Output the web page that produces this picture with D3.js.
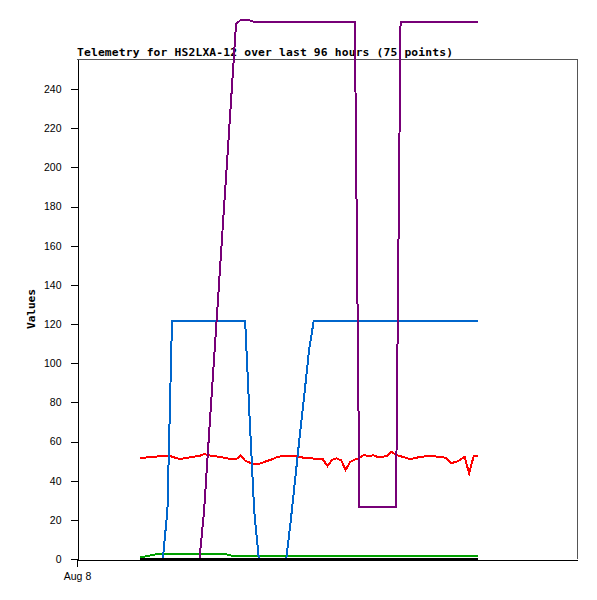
<!DOCTYPE html>
<html><head><meta charset="utf-8">
<script src="https://cdn.jsdelivr.net/npm/d3@7"></script>
<style>
body{margin:0;background:#fff;}
svg{display:block;}
</style></head>
<body>
<script>
const title = "Telemetry for HS2LXA-12 over last 96 hours (75 points)";
const yLabel = "Values";
const yTicks = [0,20,40,60,80,100,120,140,160,180,200,220,240];
const xTickLabels = ["Aug 8"];

// 75 samples (index 0..74)
const redValues = [51.7,51.7,52.1,52.2,52.4,52.6,52.6,52.3,51.4,51.1,
  51.7,51.9,52.3,52.6,53.6,53.0,52.6,52.3,51.9,51.4,
  51.0,50.8,52.9,50.2,49.2,48.4,48.5,49.4,50.2,51.0,
  52.1,52.5,52.6,52.8,52.6,52.1,51.6,51.4,51.3,50.9,
  50.9,47.5,50.6,51.4,50.4,45.5,49.6,50.8,51.6,53.2,
  52.4,53.0,52.1,52.2,52.6,54.8,53.1,52.5,51.8,51.1,
  51.4,52.0,52.3,52.8,52.7,52.2,52.0,51.6,49.1,49.4,
  50.6,52.2,43.8,52.5,52.8];
const greenValues = [0.7,1.2,1.7,2.2,2.5,2.8,2.8,2.8,2.8,2.8,
  2.8,2.8,2.8,2.8,2.8,2.8,2.3,2.3,2.3,2.3,
  1.7,1.7,1.7,1.7,1.7,1.7,1.7,1.7,1.7,1.7,
  1.7,1.7,1.7,1.7,1.7,1.7,1.7,1.7,1.7,1.7,
  1.7,1.7,1.7,1.7,1.7,1.7,1.7,1.7,1.7,1.7,
  1.7,1.7,1.7,1.7,1.7,1.7,1.7,1.7,1.7,1.7,
  1.7,1.7,1.7,1.7,1.7,1.7,1.7,1.7,1.7,1.7,
  1.7,1.7,1.7,1.7,1.7];
const blueValues = [0,0,0,0,0,0,25,121.5,121.5,121.5,
  121.5,121.5,121.5,121.5,121.5,121.5,121.5,121.5,121.5,121.5,
  121.5,121.5,121.5,121.5,71,24,0,0,0,0,
  0,0,0,20,42,64,85,107,121.5,121.5,
  121.5,121.5,121.5,121.5,121.5,121.5,121.5,121.5,121.5,121.5,
  121.5,121.5,121.5,121.5,121.5,121.5,121.5,121.5,121.5,121.5,
  121.5,121.5,121.5,121.5,121.5,121.5,121.5,121.5,121.5,121.5,
  121.5,121.5,121.5,121.5,121.5];
const purpleValues = [0,0,0,0,0,0,0,0,0,0,
  0,0,0,0,24,60,95,130,166,201,
  237,273,275.3,275.3,275,274.3,274.3,274.3,274.3,274.3,
  274.3,274.3,274.3,274.3,274.3,274.3,274.3,274.3,274.3,274.3,
  274.3,274.3,274.3,274.3,274.3,274.3,274.3,274.3,26.7,26.7,
  26.7,26.7,26.7,26.7,26.7,26.7,26.7,274.3,274.3,274.3,
  274.3,274.3,274.3,274.3,274.3,274.3,274.3,274.3,274.3,274.3,
  274.3,274.3,274.3,274.3,274.3];
const blackValues = [0,0,0,0,0,0,0,0,0,0,0,0,0,0,0,0,0,0,0,0,0,0,0,0,0,
  0,0,0,0,0,0,0,0,0,0,0,0,0,0,0,0,0,0,0,0,0,0,0,0,0,
  0,0,0,0,0,0,0,0,0,0,0,0,0,0,0,0,0,0,0,0,0,0,0,0,0];

const series = [
  {name:"red", values:redValues, color:"#ff0000"},
  {name:"green", values:greenValues, color:"#00a000"},
  {name:"blue", values:blueValues, color:"#0066cc"},
  {name:"purple", values:purpleValues, color:"#770077"},
  {name:"black", values:blackValues, color:"#000000"}
];

const W = 597, H = 600;
const mLeft = 77, mRight = 577, mTop = 59, mBottom = 559;

const svg = d3.select("body").append("svg").attr("width", W).attr("height", H);

// time axis: start of Aug 8 at left edge
const t0 = new Date(2023, 7, 8, 0, 0, 0);
const hourMs = 3600e3;
const stepH = 96 / 74;            // hours between samples
const startH = 17.88;             // first sample offset (hours)
const times = d3.range(75).map(i => new Date(+t0 + (startH + i * stepH) * hourMs));
const x = d3.scaleTime().domain([t0, new Date(+t0 + 141.9 * hourMs)]).range([mLeft, mRight]);
const y = d3.scaleLinear().domain([0, 500/1.9583]).range([mBottom, mTop]);

// frame
svg.append("line").attr("x1", mLeft).attr("x2", mRight).attr("y1", mTop + 0.5).attr("y2", mTop + 0.5)
  .attr("stroke", "#555").attr("shape-rendering", "crispEdges");
svg.append("line").attr("x1", mRight + 0.5).attr("x2", mRight + 0.5).attr("y1", mTop).attr("y2", mBottom)
  .attr("stroke", "#555").attr("shape-rendering", "crispEdges");

// title
svg.append("text").attr("x", mLeft).attr("y", 56)
  .attr("font-family", "'DejaVu Sans Mono', monospace").attr("font-weight", "bold")
  .attr("font-size", "11.3px").attr("fill", "#000")
  .attr("textLength", 376).attr("lengthAdjust", "spacing").text(title);

// y axis
const yAxis = d3.axisLeft(y).tickValues(yTicks).tickSize(7).tickPadding(9).tickSizeOuter(0);
const gy = svg.append("g").attr("transform", `translate(${mLeft + 0.5},0)`).call(yAxis);
gy.select(".domain").attr("stroke", "#000").attr("shape-rendering", "crispEdges");
gy.selectAll(".tick line").attr("stroke", "#000").attr("shape-rendering", "crispEdges");
gy.selectAll(".tick text").attr("font-family", "'Liberation Sans', Arial, sans-serif")
  .attr("font-size", "10.5px").attr("fill", "#000");

// x axis
const xAxis = d3.axisBottom(x).tickValues([t0]).tickFormat((d, i) => xTickLabels[i])
  .tickSize(7).tickPadding(6).tickSizeOuter(0);
const gx = svg.append("g").attr("transform", `translate(0,${mBottom + 0.5})`).call(xAxis);
gx.select(".domain").attr("stroke", "#000").attr("shape-rendering", "crispEdges");
gx.selectAll(".tick line").attr("stroke", "#000").attr("shape-rendering", "crispEdges");
gx.selectAll(".tick text").attr("font-family", "'Liberation Sans', Arial, sans-serif")
  .attr("font-size", "10.5px").attr("fill", "#000");

// y label
svg.append("text").attr("transform", `translate(35,${(mTop + mBottom) / 2}) rotate(-90)`)
  .attr("text-anchor", "middle")
  .attr("font-family", "'DejaVu Sans Mono', monospace").attr("font-weight", "bold")
  .attr("font-size", "11.3px").attr("fill", "#000")
  .attr("textLength", 40).attr("lengthAdjust", "spacing").text(yLabel);

// lines
const line = d3.line().x((d, i) => x(times[i])).y(d => y(d));
svg.append("g").selectAll("path").data(series).join("path")
  .attr("d", s => line(s.values))
  .attr("fill", "none").attr("stroke", s => s.color).attr("stroke-width", 2)
  .attr("stroke-linejoin", "miter").attr("shape-rendering", "crispEdges");
</script>
</body></html>
